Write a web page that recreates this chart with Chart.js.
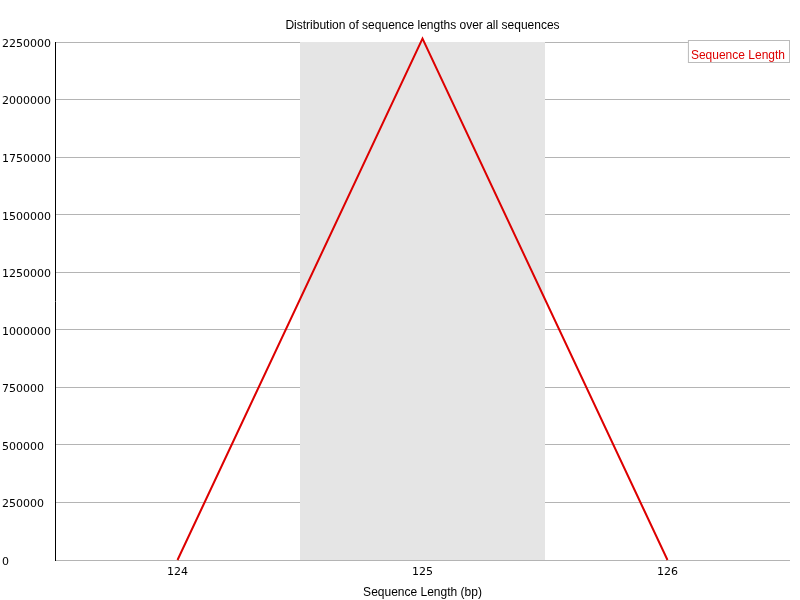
<!DOCTYPE html>
<html>
<head>
<meta charset="utf-8">
<script src="https://cdn.jsdelivr.net/npm/chart.js@4"></script>
<style>
  html, body { margin: 0; padding: 0; background: #fff; }
  #wrap { width: 800px; height: 600px; }
</style>
</head>
<body>
<div id="wrap"><canvas id="chart" width="800" height="600"></canvas></div>
<script>
const lengths = ["124", "125", "126"];
const counts = [0, 2265000, 0];
const yTicks = [0, 250000, 500000, 750000, 1000000, 1250000, 1500000, 1750000, 2000000, 2250000];
const seriesName = "Sequence Length";
const chartTitle = "Distribution of sequence lengths over all sequences";

const FONT = "'Liberation Sans', Arial, sans-serif";
const TICK_FONT = "'DejaVu Sans', sans-serif";

// grey band behind every other category, like FastQC
const bands = {
  id: "bands",
  beforeDatasetsDraw(chart) {
    const { ctx, chartArea, scales } = chart;
    const x = scales.x;
    const w = x.getPixelForValue(1) - x.getPixelForValue(0);
    ctx.save();
    ctx.fillStyle = "#e5e5e5";
    for (let i = 1; i < lengths.length; i += 2) {
      const cx = x.getPixelForValue(i);
      ctx.fillRect(cx - w / 2, chartArea.top, w, chartArea.bottom - chartArea.top);
    }
    ctx.restore();
  }
};

// title centred over the plot area, boxed legend in the top right corner
const decorations = {
  id: "decorations",
  afterDraw(chart) {
    const { ctx, chartArea } = chart;
    ctx.save();
    ctx.font = "12px " + FONT;
    ctx.fillStyle = "#000";
    ctx.textAlign = "center";
    ctx.textBaseline = "middle";
    ctx.fillText(chartTitle, (chartArea.left + chartArea.right) / 2, 26);

    ctx.textAlign = "left";
    const tw = ctx.measureText(seriesName).width;
    const w = tw + 8, h = 23;
    const x0 = chartArea.right - w, y0 = chartArea.top - 2;
    ctx.fillStyle = "#fff";
    ctx.fillRect(x0, y0, w, h);
    ctx.strokeStyle = "#bbbbbb";
    ctx.lineWidth = 1;
    ctx.strokeRect(x0 + 0.5, y0 + 0.5, w - 1, h - 1);
    ctx.fillStyle = "#dd0000";
    ctx.fillText(seriesName, x0 + 3, y0 + 16);
    ctx.restore();
  }
};

new Chart(document.getElementById("chart"), {
  type: "line",
  data: {
    labels: lengths,
    datasets: [{
      label: seriesName,
      data: counts,
      borderColor: "#dd0000",
      borderWidth: 2,
      pointRadius: 0,
      tension: 0,
      clip: false
    }]
  },
  options: {
    responsive: false,
    animation: false,
    layout: { padding: { left: 2, right: 10, top: 42, bottom: 0 } },
    plugins: {
      legend: { display: false },
      tooltip: { enabled: false },
      title: { display: false }
    },
    scales: {
      x: {
        offset: true,
        grid: { display: false, drawTicks: true, tickLength: 6 },
        border: { display: false },
        ticks: { color: "#000", font: { family: TICK_FONT, size: 11 }, padding: 0, maxRotation: 0 },
        title: {
          display: true,
          text: "Sequence Length (bp)",
          color: "#000",
          font: { family: FONT, size: 12 },
          padding: { top: 0, bottom: 0 }
        },
        afterFit(scale) { scale.height = 40; }
      },
      y: {
        min: 0,
        max: 2250000,
        grid: { color: "#b4b4b4", drawTicks: false },
        border: { display: true, color: "#000", width: 1 },
        ticks: {
          color: "#000",
          font: { family: TICK_FONT, size: 11 },
          crossAlign: "far",
          padding: 3,
          labelOffset: 2,
          callback: v => String(v)
        },
        afterBuildTicks(scale) { scale.ticks = yTicks.map(v => ({ value: v })); },
        afterFit(scale) { scale.width = 53; }
      }
    }
  },
  plugins: [bands, decorations]
});
</script>
</body>
</html>
